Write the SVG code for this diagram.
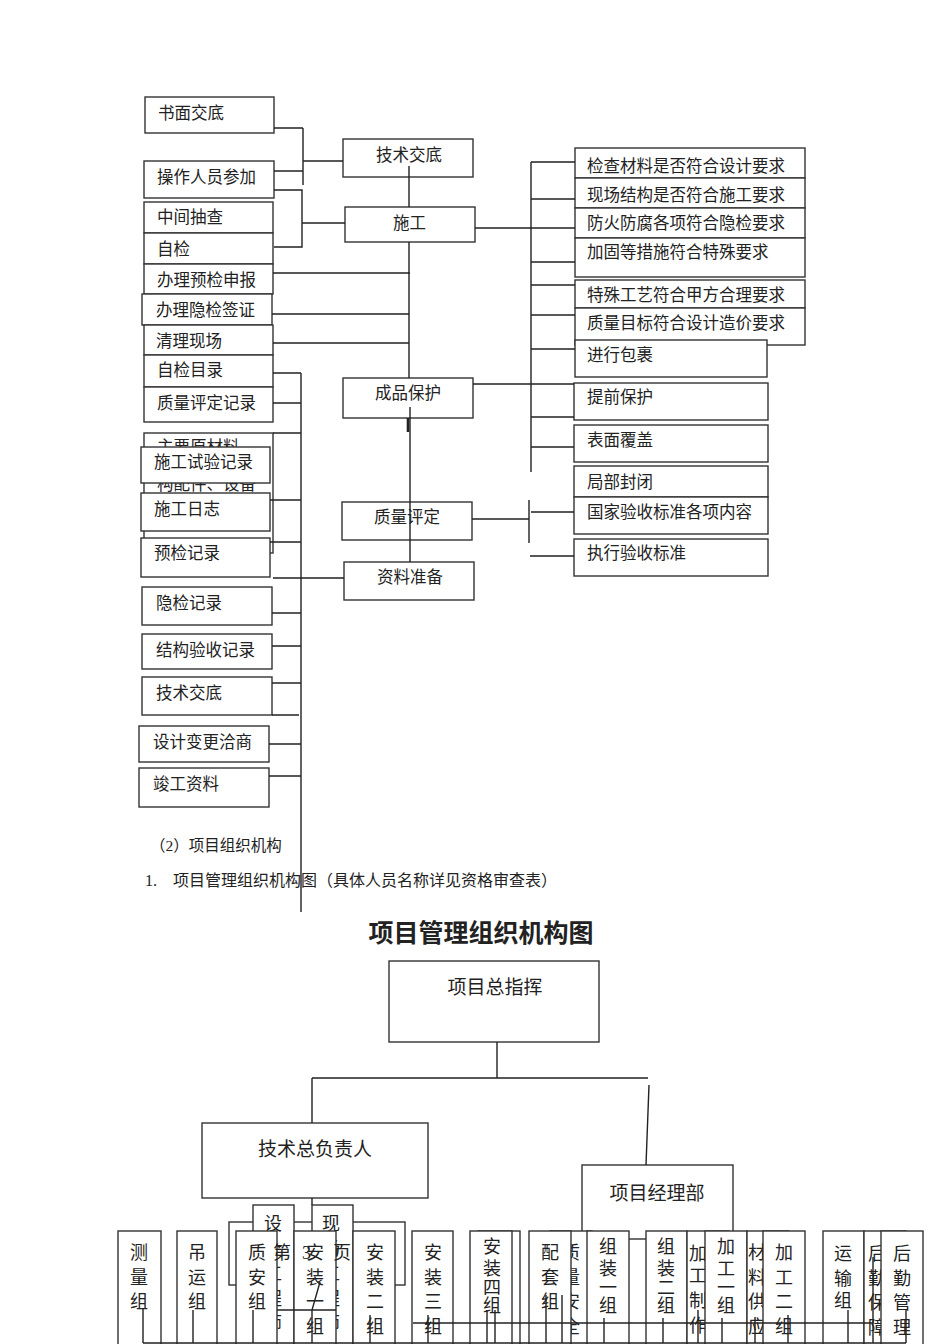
<svg xmlns="http://www.w3.org/2000/svg" width="950" height="1344" viewBox="0 0 950 1344">
<style>
.b{fill:#fff;stroke:#333;stroke-width:1.4}
.t{font-family:"Liberation Serif","Noto Sans CJK SC",serif;font-size:16.5px;fill:#222}
.m{text-anchor:middle}
.v{font-family:"Liberation Serif","Noto Sans CJK SC",serif;font-size:18px;fill:#222;text-anchor:middle}
.o{font-size:19px}
.c path{fill:none;stroke:#222;stroke-width:1.4}
</style>
<rect width="950" height="1344" fill="#fff"/>
<!-- top flow nodes -->
<g id="n1"><rect class="b" x="145" y="97" width="129" height="36"/><text class="t" x="158" y="119">书面交底</text></g>
<g id="n2"><rect class="b" x="343" y="139" width="130" height="38"/><text class="t" x="376" y="161">技术交底</text></g>
<g id="n3"><rect class="b" x="144" y="161" width="130" height="37"/><text class="t" x="157" y="183">操作人员参加</text></g>
<g id="n4"><rect class="b" x="144" y="202" width="129" height="31"/><text class="t" x="157" y="223">中间抽查</text></g>
<g id="n5"><rect class="b" x="345" y="207" width="130" height="35"/><text class="t" x="393" y="229">施工</text></g>
<g id="n6"><rect class="b" x="144" y="233" width="129" height="31"/><text class="t" x="157" y="255">自检</text></g>
<g id="n7"><rect class="b" x="144" y="264" width="129" height="30"/><text class="t" x="157" y="286">办理预检申报</text></g>
<g id="n8"><rect class="b" x="142" y="294" width="130" height="31"/><text class="t" x="156" y="316">办理隐检签证</text></g>
<g id="n9"><rect class="b" x="144" y="325" width="129" height="30"/><text class="t" x="156" y="347">清理现场</text></g>
<g id="n10"><rect class="b" x="144" y="355" width="129" height="32"/><text class="t" x="157" y="376">自检目录</text></g>
<g id="n11"><rect class="b" x="144" y="387" width="129" height="35"/><text class="t" x="157" y="409">质量评定记录</text></g>
<g id="n12"><rect class="b" x="144" y="433" width="129" height="120"/><text class="t" x="157" y="453">主要原材料</text><text class="t" x="157" y="490">构配件、设备</text></g>
<g id="n13"><rect class="b" x="141" y="447" width="129" height="36"/><text class="t" x="154" y="468">施工试验记录</text></g>
<g id="n14"><rect class="b" x="141" y="493" width="129" height="38"/><text class="t" x="154" y="515">施工日志</text></g>
<g id="n15"><rect class="b" x="141" y="538" width="129" height="39"/><text class="t" x="154" y="559">预检记录</text></g>
<g id="n16"><rect class="b" x="142" y="587" width="130" height="38"/><text class="t" x="156" y="609">隐检记录</text></g>
<g id="n17"><rect class="b" x="142" y="634" width="130" height="35"/><text class="t" x="156" y="656">结构验收记录</text></g>
<g id="n18"><rect class="b" x="142" y="677" width="130" height="38"/><text class="t" x="156" y="699">技术交底</text></g>
<g id="n19"><rect class="b" x="139" y="726" width="130" height="36"/><text class="t" x="153" y="748">设计变更洽商</text></g>
<g id="n20"><rect class="b" x="139" y="768" width="130" height="39"/><text class="t" x="153" y="790">竣工资料</text></g>
<g id="n21"><rect class="b" x="343" y="378" width="130" height="40"/><text class="t" x="375" y="399">成品保护</text></g>
<g id="n22"><rect class="b" x="342" y="502" width="130" height="38"/><text class="t" x="374" y="523">质量评定</text></g>
<g id="n23"><rect class="b" x="344" y="562" width="130" height="38"/><text class="t" x="377" y="583">资料准备</text></g>
<g id="r1"><rect class="b" x="575" y="148" width="230" height="30"/><text class="t" x="587" y="172">检查材料是否符合设计要求</text></g>
<g id="r2"><rect class="b" x="575" y="178" width="230" height="30"/><text class="t" x="587" y="201">现场结构是否符合施工要求</text></g>
<g id="r3"><rect class="b" x="575" y="208" width="230" height="30"/><text class="t" x="587" y="229">防火防腐各项符合隐检要求</text></g>
<g id="r4"><rect class="b" x="575" y="238" width="230" height="39"/><text class="t" x="587" y="258">加固等措施符合特殊要求</text></g>
<g id="r5"><rect class="b" x="575" y="280" width="230" height="28"/><text class="t" x="587" y="301">特殊工艺符合甲方合理要求</text></g>
<g id="r6"><rect class="b" x="575" y="308" width="230" height="37"/><text class="t" x="587" y="329">质量目标符合设计造价要求</text></g>
<g id="r7"><rect class="b" x="575" y="340" width="192" height="37"/><text class="t" x="587" y="361">进行包裹</text></g>
<g id="r8"><rect class="b" x="574" y="383" width="194" height="37"/><text class="t" x="587" y="403">提前保护</text></g>
<g id="r9"><rect class="b" x="574" y="425" width="194" height="37"/><text class="t" x="587" y="446">表面覆盖</text></g>
<g id="r10"><rect class="b" x="574" y="466" width="194" height="31"/><text class="t" x="587" y="488">局部封闭</text></g>
<g id="r11"><rect class="b" x="574" y="497" width="194" height="37"/><text class="t" x="587" y="518">国家验收标准各项内容</text></g>
<g id="r12"><rect class="b" x="574" y="539" width="194" height="37"/><text class="t" x="587" y="559">执行验收标准</text></g>
<!-- body text -->
<g id="caption">
<text class="t" x="150" y="851" style="font-size:15.5px">（2）项目组织机构</text>
<text class="t" x="145" y="886" style="font-size:16px">1.</text>
<text class="t" x="173" y="886" style="font-size:16px">项目管理组织机构图（具体人员名称详见资格审查表）</text>
<text class="t m" x="481" y="942" style="font-size:25px;font-weight:bold">项目管理组织机构图</text>
</g>
<!-- org chart nodes -->
<g id="o1"><rect class="b" x="389" y="961" width="210" height="81"/><text class="t m o" x="495" y="994">项目总指挥</text></g>
<g id="o2"><rect class="b" x="202" y="1123" width="226" height="75"/><text class="t m o" x="315" y="1156">技术总负责人</text></g>
<g id="o3"><rect class="b" x="582" y="1165" width="151" height="74"/><text class="t m o" x="657" y="1200">项目经理部</text></g>
<g id="bg"><rect class="b" x="229" y="1222" width="176" height="63"/></g>
<g id="g-sj"><rect class="b" x="253" y="1205" width="41" height="145"/><text class="v"><tspan x="273" y="1230">设</tspan><tspan x="273" y="1255">计</tspan><tspan x="273" y="1280">工</tspan><tspan x="273" y="1305">程</tspan><tspan x="273" y="1330">师</tspan></text></g>
<g id="g-xc"><rect class="b" x="312" y="1205" width="41" height="145"/><text class="v"><tspan x="331" y="1230">现</tspan><tspan x="331" y="1255">场</tspan><tspan x="331" y="1280">工</tspan><tspan x="331" y="1305">程</tspan><tspan x="331" y="1330">师</tspan></text></g>
<g id="g1"><rect class="b" x="118" y="1231" width="43" height="119"/><text class="v"><tspan x="139" y="1259">测</tspan><tspan x="139" y="1284">量</tspan><tspan x="139" y="1308">组</tspan></text></g>
<g id="g2"><rect class="b" x="177" y="1231" width="40" height="119"/><text class="v"><tspan x="197" y="1259">吊</tspan><tspan x="197" y="1284">运</tspan><tspan x="197" y="1308">组</tspan></text></g>
<g id="g3"><rect class="b" x="236" y="1231" width="41" height="119"/><text class="v"><tspan x="257" y="1259">质</tspan><tspan x="257" y="1284">安</tspan><tspan x="257" y="1308">组</tspan></text></g>
<g id="g4"><rect class="b" x="294" y="1231" width="42" height="119"/><text class="v"><tspan x="315" y="1259">安</tspan><tspan x="315" y="1284">装</tspan><tspan x="315" y="1308">一</tspan><tspan x="315" y="1333">组</tspan></text></g>
<g id="g5"><rect class="b" x="353" y="1231" width="42" height="119"/><text class="v"><tspan x="375" y="1259">安</tspan><tspan x="375" y="1284">装</tspan><tspan x="375" y="1308">二</tspan><tspan x="375" y="1333">组</tspan></text></g>
<g id="g6"><rect class="b" x="412" y="1231" width="41" height="119"/><text class="v"><tspan x="433" y="1259">安</tspan><tspan x="433" y="1284">装</tspan><tspan x="433" y="1308">三</tspan><tspan x="433" y="1333">组</tspan></text></g>
<g id="g7h"><rect class="b" x="478" y="1231" width="42" height="119"/></g>
<g id="g7"><rect class="b" x="470" y="1231" width="42" height="119"/><text class="v"><tspan x="492" y="1253">安</tspan><tspan x="492" y="1275">装</tspan><tspan x="492" y="1294">四</tspan><tspan x="492" y="1312">组</tspan></text></g>
<g id="g8h"><rect class="b" x="550" y="1231" width="42" height="119"/><text class="v"><tspan x="571" y="1259">质</tspan><tspan x="571" y="1284">量</tspan><tspan x="571" y="1308">安</tspan><tspan x="571" y="1333">全</tspan></text></g>
<g id="g8"><rect class="b" x="529" y="1231" width="42" height="119"/><text class="v"><tspan x="550" y="1259">配</tspan><tspan x="550" y="1284">套</tspan><tspan x="550" y="1308">组</tspan></text></g>
<g id="g9"><rect class="b" x="587" y="1231" width="42" height="119"/><text class="v"><tspan x="608" y="1253">组</tspan><tspan x="608" y="1275">装</tspan><tspan x="608" y="1294">一</tspan><tspan x="608" y="1312">组</tspan></text></g>
<g id="g10"><rect class="b" x="646" y="1231" width="41" height="119"/><text class="v"><tspan x="666" y="1253">组</tspan><tspan x="666" y="1275">装</tspan><tspan x="666" y="1294">二</tspan><tspan x="666" y="1312">组</tspan></text></g>
<g id="g11h"><rect class="b" x="687" y="1231" width="42" height="119"/><text class="v"><tspan x="698" y="1260">加</tspan><tspan x="698" y="1282">工</tspan><tspan x="698" y="1307">制</tspan><tspan x="698" y="1332">作</tspan></text></g>
<g id="g11"><rect class="b" x="705" y="1231" width="42" height="119"/><text class="v"><tspan x="726" y="1253">加</tspan><tspan x="726" y="1275">工</tspan><tspan x="726" y="1294">一</tspan><tspan x="726" y="1312">组</tspan></text></g>
<g id="g12h"><rect class="b" x="747" y="1231" width="42" height="119"/><text class="v"><tspan x="757" y="1259">材</tspan><tspan x="757" y="1284">料</tspan><tspan x="757" y="1308">供</tspan><tspan x="757" y="1333">应</tspan></text></g>
<g id="g12"><rect class="b" x="763" y="1231" width="42" height="119"/><text class="v"><tspan x="784" y="1259">加</tspan><tspan x="784" y="1284">工</tspan><tspan x="784" y="1308">二</tspan><tspan x="784" y="1333">组</tspan></text></g>
<g id="g13"><rect class="b" x="823" y="1231" width="41" height="119"/><text class="v"><tspan x="843" y="1260">运</tspan><tspan x="843" y="1285">输</tspan><tspan x="843" y="1307">组</tspan></text></g>
<g id="g14h"><rect class="b" x="864" y="1231" width="42" height="119"/><text class="v"><tspan x="877" y="1260">后</tspan><tspan x="877" y="1285">勤</tspan><tspan x="877" y="1309">保</tspan><tspan x="877" y="1334">障</tspan></text></g>
<g id="g14"><rect class="b" x="881" y="1231" width="42" height="119"/><text class="v"><tspan x="902" y="1260">后</tspan><tspan x="902" y="1285">勤</tspan><tspan x="902" y="1309">管</tspan><tspan x="902" y="1334">理</tspan></text></g>
<!-- connectors -->
<g class="c" id="connectors">
<path d="M274,128H303M303,128V185M303,161H343M274,171H303"/>
<path d="M274,190H302V247H274M302,223H345"/>
<path d="M409,166V207M409,242V378M410,407V562"/>
<path d="M408,418V432" style="stroke-width:2.6"/>
<path d="M273,273H410M272,314H409M273,343H409"/>
<path d="M273,373H301M301,373V912M273,403H301M273,433H301M270,500H301M270,542H301M273,578H344"/>
<path d="M272,613H301M272,646H301M272,683H301M272,715H299M269,744H301M269,776H301"/>
<path d="M475,228H575M531,162V472M531,162H575M531,199H575M531,262H575M531,285H575M531,315H575M531,349H575"/>
<path d="M473,384H574M531,417H574M531,447H574"/>
<path d="M472,519H529M529,500V543M531,512H574M530,556H574"/>
<path d="M497,1042V1078M312,1078H648M312,1078V1123M649,1085L646,1165M312,1198V1205"/>
<path d="M143,1308V1343M193,1310V1343M253,1310V1343M320,1282L312,1310V1343M370,1315V1343M428,1315V1343"/>
<path d="M487,1310V1343M495,1310V1343M546,1295V1343M562,1295V1343M604,1318V1343M663,1318V1343M698,1310V1343M722,1318V1343M755,1317V1343M788,1315V1343M848,1310V1343M873,1257V1343M906,1310V1343"/>
<path d="M143,1343H906M413,1323H873M277,1310H336"/>
</g>
<g id="footer"><text class="v" style="text-anchor:start"><tspan x="273" y="1259">第</tspan><tspan x="302" y="1259">3</tspan><tspan x="333" y="1259">页</tspan></text></g>
</svg>
